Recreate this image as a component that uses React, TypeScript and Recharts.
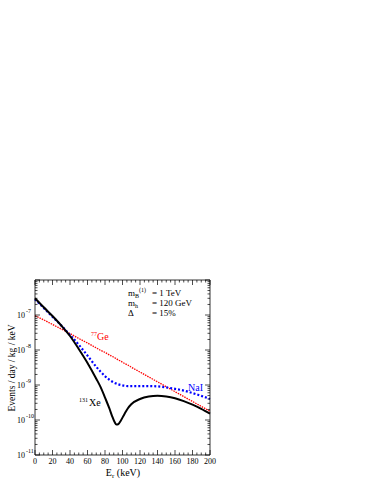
import React from "react"
import { LineChart, Line, XAxis, YAxis } from "recharts"

// recoil energy in keV
const energies = [0, 10, 20, 30, 40, 50, 60, 70, 75, 80, 85, 88, 91, 93, 95, 98, 102, 106, 110, 120, 130, 140, 150, 160, 170, 180, 190, 200]

// log10(events / day / kg / keV)
const xenon = [-6.52, -6.78, -7.03, -7.3, -7.6, -7.97, -8.37, -8.82, -9.06, -9.36, -9.67, -9.88, -10.06, -10.13, -10.12, -10.02, -9.84, -9.67, -9.55, -9.4, -9.33, -9.31, -9.33, -9.38, -9.46, -9.56, -9.68, -9.82]
const sodiumIodide = [-6.55, -6.8, -7.05, -7.3, -7.57, -7.85, -8.16, -8.48, -8.62, -8.75, -8.85, -8.9, -8.94, -8.96, -8.98, -9.0, -9.02, -9.03, -9.03, -9.03, -9.03, -9.04, -9.07, -9.11, -9.16, -9.23, -9.31, -9.4]
const germanium = [-7.02, -7.14, -7.27, -7.4, -7.53, -7.67, -7.8, -7.94, -8.01, -8.07, -8.14, -8.18, -8.22, -8.25, -8.28, -8.32, -8.38, -8.43, -8.49, -8.63, -8.77, -8.91, -9.05, -9.19, -9.33, -9.47, -9.61, -9.75]

const xTicks = Array.from({ length: 41 }, (_, i) => i * 5)
const decades = [-11, -10, -9, -8, -7]
const yTicks = decades
  .flatMap((d) => [1, 2, 3, 4, 5, 6, 7, 8, 9].map((k) => Math.round((d + Math.log10(k)) * 1e6) / 1e6))
  .concat([-6])
const yLabels = [-11, -10, -9, -8, -7]

const data = energies.map((e, i) => ({ e, xe: xenon[i], nai: sodiumIodide[i], ge: germanium[i] }))

const FONT = "'Liberation Serif', 'Times New Roman', serif"
const isMajorY = (v: number) => Math.abs(v - Math.round(v)) < 1e-6

function BottomTick(props: any) {
  const { x, y, payload } = props
  const major = payload.value % 20 === 0
  return (
    <g>
      <line x1={x} x2={x} y1={y} y2={y - (major ? 5 : 2.5)} stroke="#000" strokeWidth={0.7} />
      {major && (
        <text x={x} y={y + 8.5} textAnchor="middle" fontSize={8} fontFamily={FONT} fill="#000">
          {payload.value}
        </text>
      )}
    </g>
  )
}

function TopTick(props: any) {
  const { x, y, payload } = props
  const major = payload.value % 20 === 0
  return <line x1={x} x2={x} y1={y} y2={y + (major ? 5 : 2.5)} stroke="#000" strokeWidth={0.7} />
}

function LeftTick(props: any) {
  const { x, y, payload } = props
  const v = payload.value
  const major = isMajorY(v)
  const showLabel = major && yLabels.includes(Math.round(v))
  return (
    <g>
      <line x1={x} x2={x + (major ? 5 : 2.5)} y1={y} y2={y} stroke="#000" strokeWidth={0.7} />
      {showLabel && (
        <text x={x - 18} y={y + 3} fontSize={8} fontFamily={FONT} fill="#000">
          10
          <tspan dx={1} dy={-5} fontSize={6}>{Math.round(v)}</tspan>
        </text>
      )}
    </g>
  )
}

function RightTick(props: any) {
  const { x, y, payload } = props
  const major = isMajorY(payload.value)
  return <line x1={x} x2={x - (major ? 5 : 2.5)} y1={y} y2={y} stroke="#000" strokeWidth={0.7} />
}

const axisLine = { stroke: "#000", strokeWidth: 0.8 }

export default function App() {
  return (
    <div style={{ position: "absolute", left: 0, top: 0, width: 379, height: 491, background: "#fff" }}>
      <LineChart width={379} height={491} data={data} margin={{ top: 279, right: 168, bottom: 35, left: 34 }}>
        <XAxis dataKey="e" type="number" domain={[0, 200]} ticks={xTicks} interval={0} height={1}
          tickSize={0} tickMargin={0} tickLine={false} axisLine={axisLine} tick={(p: any) => <BottomTick {...p} />} />
        <XAxis xAxisId="top" orientation="top" dataKey="e" type="number" domain={[0, 200]} ticks={xTicks} interval={0} height={1}
          tickSize={0} tickMargin={0} tickLine={false} axisLine={axisLine} tick={(p: any) => <TopTick {...p} />} />
        <YAxis type="number" domain={[-11, -6]} ticks={yTicks} interval={0} width={1} allowDataOverflow
          tickSize={0} tickMargin={0} tickLine={false} axisLine={axisLine} tick={(p: any) => <LeftTick {...p} />} />
        <YAxis yAxisId="right" orientation="right" type="number" domain={[-11, -6]} ticks={yTicks} interval={0} width={1} allowDataOverflow
          tickSize={0} tickMargin={0} tickLine={false} axisLine={axisLine} tick={(p: any) => <RightTick {...p} />} />
        <Line dataKey="ge" type="monotone" stroke="#ff0000" strokeWidth={1.3} strokeDasharray="1.5 1" dot={false} isAnimationActive={false} />
        <Line dataKey="nai" type="monotone" stroke="#0000ff" strokeWidth={2.2} strokeDasharray="2 2" dot={false} isAnimationActive={false} />
        <Line dataKey="xe" type="monotone" stroke="#000" strokeWidth={2} dot={false} isAnimationActive={false} />
      </LineChart>
      <svg width={379} height={491} style={{ position: "absolute", left: 0, top: 0, pointerEvents: "none" }} fontFamily={FONT}>
        <text x={123} y={475.5} textAnchor="middle" fontSize={10}>
          E<tspan dy={2} fontSize={7}>r</tspan><tspan dy={-2}> (keV)</tspan>
        </text>
        <text transform="translate(15 368) rotate(-90)" textAnchor="middle" fontSize={9.5}>
          Events / day / kg / keV
        </text>
        <text x={128} y={296} fontSize={9}>
          m<tspan dy={2} fontSize={6}>B</tspan><tspan dy={-6} fontSize={6}>(1)</tspan>
        </text>
        <text x={152} y={296} fontSize={9}>= 1 TeV</text>
        <text x={128} y={306} fontSize={9}>
          m<tspan dy={2} fontSize={6}>h</tspan>
        </text>
        <text x={152} y={306} fontSize={9}>= 120 GeV</text>
        <text x={128} y={316} fontSize={9}>Δ</text>
        <text x={152} y={316} fontSize={9}>=  15%</text>
        <text x={91} y={340} fontSize={10} fill="#ff0000">
          <tspan fontSize={6} dy={-4}>77</tspan><tspan dy={4}>Ge</tspan>
        </text>
        <text x={188} y={391} fontSize={10} fill="#0000ff">NaI</text>
        <text x={79} y={406} fontSize={10}>
          <tspan fontSize={6} dy={-4}>131</tspan><tspan dy={4} dx={1}>Xe</tspan>
        </text>
      </svg>
    </div>
  )
}
